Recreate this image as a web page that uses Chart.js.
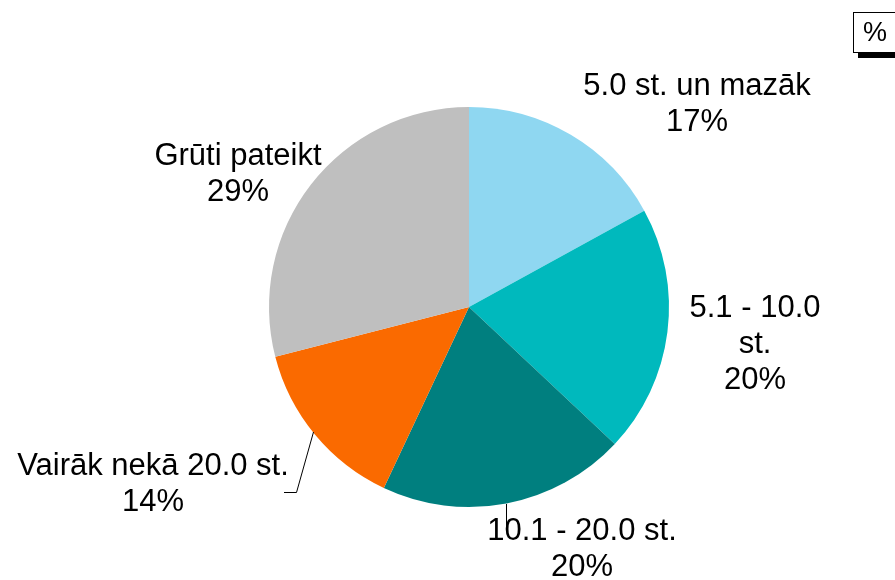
<!DOCTYPE html>
<html>
<head>
<meta charset="utf-8">
<script src="https://cdn.jsdelivr.net/npm/chart.js@4"></script>
<style>
  html, body { margin: 0; padding: 0; background: #fff; }
  #wrap { width: 895px; height: 580px; position: relative; }
</style>
</head>
<body>
<div id="wrap"><canvas id="pie"></canvas></div>
<script>
// data
const categories = ['5.0 st. un mazāk', '5.1 - 10.0 st.', '10.1 - 20.0 st.', 'Vairāk nekā 20.0 st.', 'Grūti pateikt'];
const shares = [17, 20, 20, 14, 29];
const labelLines = [
  ['5.0 st. un mazāk'],
  ['5.1 - 10.0', 'st.'],
  ['10.1 - 20.0 st.'],
  ['Vairāk nekā 20.0 st.'],
  ['Grūti pateikt']
];
const colors = ['#8fd7f1', '#00b9bd', '#007f7f', '#fa6a00', '#bfbfbf'];
const unitLabel = '%';

// label layout (text block centre x, first line y)
const labelPos = [
  { x: 697, y: 86 },
  { x: 755, y: 308 },
  { x: 582, y: 531 },
  { x: 153, y: 466 },
  { x: 238, y: 156 }
];
const LINE_H = 36;

const labelsPlugin = {
  id: 'sliceLabels',
  afterDraw(chart) {
    const ctx = chart.ctx;
    ctx.save();
    // leader lines
    ctx.strokeStyle = '#000';
    ctx.lineWidth = 1;
    ctx.beginPath();
    ctx.moveTo(313.5, 432);
    ctx.lineTo(296.5, 492.5);
    ctx.lineTo(284, 492.5);
    ctx.stroke();
    ctx.beginPath();
    ctx.moveTo(506.5, 504);
    ctx.lineTo(506.5, 527);
    ctx.stroke();

    ctx.fillStyle = '#000';
    ctx.font = '31px "Liberation Sans", Arial, sans-serif';
    ctx.textAlign = 'center';
    ctx.textBaseline = 'middle';
    labelLines.forEach((lines, i) => {
      const p = labelPos[i];
      const all = lines.concat([shares[i] + '%']);
      all.forEach((t, k) => ctx.fillText(t, p.x, p.y + k * LINE_H));
    });

    // unit box top-right
    ctx.fillStyle = '#000';
    ctx.fillRect(858, 52, 40, 6);
    ctx.fillStyle = '#fff';
    ctx.fillRect(853, 12, 45, 40);
    ctx.strokeStyle = '#000';
    ctx.lineWidth = 1;
    ctx.strokeRect(853.5, 12.5, 45, 40);
    ctx.fillStyle = '#000';
    ctx.font = '27px "Liberation Sans", Arial, sans-serif';
    ctx.fillText(unitLabel, 875, 34);
    ctx.restore();
  }
};

new Chart(document.getElementById('pie'), {
  type: 'pie',
  data: {
    labels: categories,
    datasets: [{ data: shares, backgroundColor: colors, borderWidth: 0 }]
  },
  options: {
    responsive: true, maintainAspectRatio: false, animation: false,
    layout: { padding: { left: 269, right: 226, top: 107, bottom: 73 } },
    plugins: { legend: { display: false }, tooltip: { enabled: false } }
  },
  plugins: [labelsPlugin]
});
</script>
</body>
</html>
